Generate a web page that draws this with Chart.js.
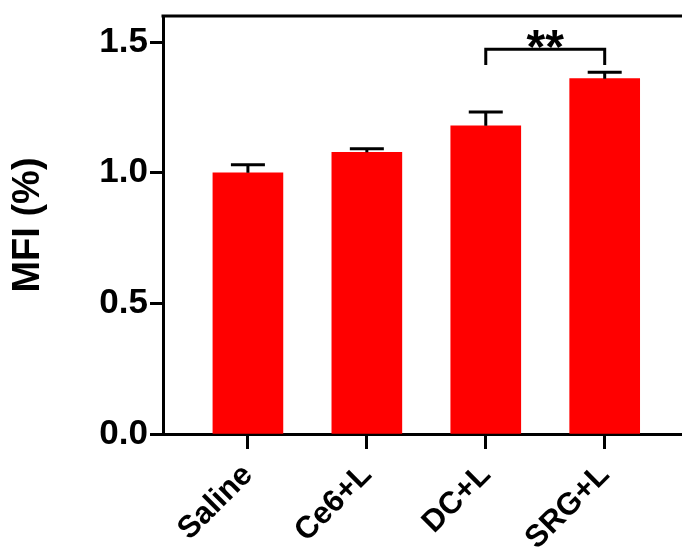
<!DOCTYPE html>
<html>
<head>
<meta charset="utf-8">
<script src="https://cdn.jsdelivr.net/npm/chart.js@4"></script>
<style>
  html, body { margin: 0; padding: 0; background: #fff; }
  #wrap { width: 682px; height: 558px; }
</style>
</head>
<body>
<div id="wrap"><canvas id="grafico" width="682" height="558"></canvas></div>
<script>
// Dados
const categorias = ['Saline', 'Ce6+L', 'DC+L', 'SRG+L'];
const medias = [1.00, 1.078, 1.18, 1.36];
const erros = [0.031, 0.014, 0.053, 0.025];
const ticksY = [0.0, 0.5, 1.0, 1.5];
// Significância: entre DC+L e SRG+L
const sigPar = [2, 3];
const sigTexto = '**';
const sigNivel = 1.473;
const sigPerna = 1.412;

const fonte = '"Liberation Sans", Arial, Helvetica, sans-serif';

// Barras de erro (só para cima) e colchete de significância
const pluginExtras = {
  id: 'extras',
  afterDatasetsDraw(chart) {
    const ctx = chart.ctx;
    const x = chart.scales.x;
    const y = chart.scales.y;
    const area = chart.chartArea;
    ctx.save();
    ctx.strokeStyle = '#000';
    ctx.lineWidth = 3;
    ctx.lineCap = 'butt';

    medias.forEach((m, i) => {
      const px = x.getPixelForValue(i);
      const y0 = y.getPixelForValue(m);
      const y1 = y.getPixelForValue(m + erros[i]);
      ctx.beginPath();
      ctx.moveTo(px, y0);
      ctx.lineTo(px, y1);
      ctx.moveTo(px - 17, y1);
      ctx.lineTo(px + 17, y1);
      ctx.stroke();
    });

    // colchete
    const xa = x.getPixelForValue(sigPar[0]);
    const xb = x.getPixelForValue(sigPar[1]);
    const yn = y.getPixelForValue(sigNivel);
    const yp = y.getPixelForValue(sigPerna);
    ctx.beginPath();
    ctx.moveTo(xa, yp);
    ctx.lineTo(xa, yn);
    ctx.lineTo(xb, yn);
    ctx.lineTo(xb, yp);
    ctx.stroke();

    ctx.fillStyle = '#000';
    ctx.font = 'bold 48px ' + fonte;
    ctx.textAlign = 'center';
    ctx.textBaseline = 'alphabetic';
    ctx.fillText(sigTexto, (xa + xb) / 2, yn + 14);

    // linha superior
    ctx.beginPath();
    ctx.moveTo(area.left - 1.5, area.top);
    ctx.lineTo(chart.width, area.top);
    ctx.stroke();
    ctx.restore();
  }
};

new Chart(document.getElementById('grafico'), {
  type: 'bar',
  data: {
    datasets: [{
      data: medias.map((v, i) => ({ x: i, y: v })),
      backgroundColor: '#ff0000',
      borderWidth: 0,
      barThickness: 70
    }]
  },
  options: {
    responsive: false,
    animation: false,
    layout: { padding: { top: 16, right: 0, left: 0, bottom: 0 } },
    plugins: {
      legend: { display: false },
      tooltip: { enabled: false }
    },
    scales: {
      x: {
        type: 'linear',
        offset: false,
        min: -0.714,
        max: 3.65,
        afterBuildTicks: s => { s.ticks = categorias.map((c, i) => ({ value: i })); },
        afterFit: s => { s.height = 124; s.paddingLeft = 0; s.paddingRight = 0; },
        border: { display: true, color: '#000', width: 3 },
        grid: { offset: false, drawOnChartArea: false, tickLength: 15, tickWidth: 3, tickColor: '#000' },
        ticks: {
          autoSkip: false,
          minRotation: 45,
          maxRotation: 45,
          padding: 8,
          color: '#000',
          font: { family: fonte, size: 31, weight: 'bold' },
          callback: v => categorias[v]
        }
      },
      y: {
        min: 0,
        max: 1.6,
        afterBuildTicks: s => { s.ticks = ticksY.map(v => ({ value: v })); },
        afterFit: s => { s.width = 163; s.paddingTop = 0; s.paddingBottom = 0; },
        border: { display: true, color: '#000', width: 3 },
        grid: { drawOnChartArea: false, tickLength: 13, tickWidth: 3, tickColor: '#000' },
        ticks: {
          padding: 2,
          color: '#000',
          font: { family: fonte, size: 35, weight: 'bold' },
          callback: v => v.toFixed(1)
        },
        title: {
          display: true,
          text: 'MFI (%)',
          color: '#000',
          padding: { top: 6, bottom: 0 },
          font: { family: fonte, size: 38, weight: 'bold' }
        }
      }
    }
  },
  plugins: [pluginExtras]
});
</script>
</body>
</html>
